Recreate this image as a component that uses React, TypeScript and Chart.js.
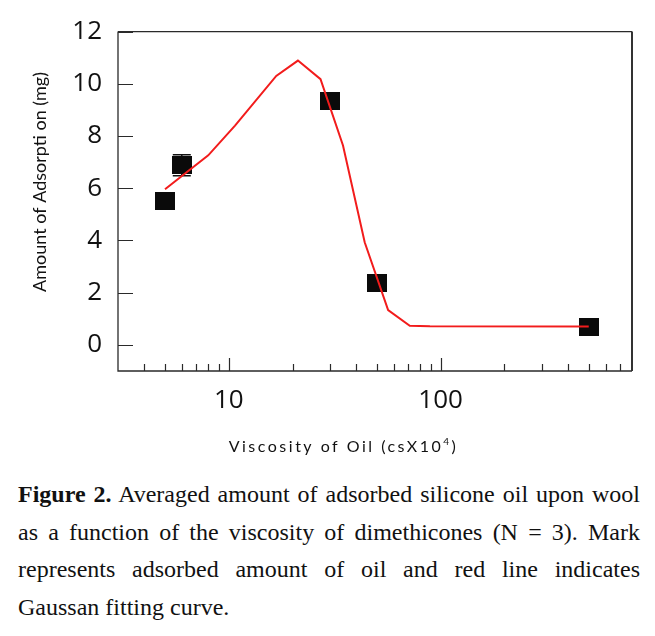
import React, { useEffect, useRef } from 'react';
import { Chart, registerables } from 'chart.js';

Chart.register(...registerables);

// Measured data (viscosity in cs x 10^4, adsorption in mg)
const viscosity = [5, 6, 30, 50, 500];
const adsorption = [5.5, 6.88, 9.36, 2.36, 0.7];
const adsorptionErr = [0, 0.4, 0, 0, 0];

// Gaussian fitting curve (red line) vertices
const fitX = [5, 8, 10.7, 16.75, 21.2, 27.1, 34.6, 43.8, 56.5, 71.5, 89, 500];
const fitY = [5.96, 7.26, 8.4, 10.3, 10.89, 10.18, 7.64, 3.93, 1.33, 0.73, 0.71, 0.7];

// Axis ticks
const xMajorTicks = [10, 100];
const xMinorTicks = [4, 5, 6, 7, 8, 9, 20, 30, 40, 50, 60, 70, 80, 90, 200, 300, 400, 500, 600, 700];
const yTicks = [0, 2, 4, 6, 8, 10, 12];

const yTitle = 'Amount of Adsorpti on (mg)';
const xTitleMain = 'Viscosity of Oil (csX10';
const xTitleSup = '4';
const xTitleEnd = ')';

const captionBold = 'Figure 2.';
const captionLines = [
  ' Averaged amount of adsorbed silicone oil upon wool',
  'as a function of the viscosity of dimethicones (N = 3). Mark',
  'represents adsorbed amount of oil and red line indicates',
  'Gaussan fitting curve.',
];

const framePlugin = {
  id: 'frame',
  beforeDatasetsDraw(chart: any) {
    const { ctx, chartArea: a, scales } = chart;
    const xs = scales.x;
    const ys = scales.y;
    ctx.save();
    ctx.strokeStyle = '#2a2a2a';
    ctx.lineWidth = 1.3;
    ctx.beginPath();
    ctx.moveTo(a.left, a.top);
    ctx.lineTo(a.right, a.top);
    ctx.moveTo(a.left, a.top);
    ctx.lineTo(a.left, a.bottom);
    ctx.lineTo(a.right, a.bottom);
    ctx.stroke();
    ctx.lineWidth = 2;
    ctx.strokeStyle = '#333';
    ctx.beginPath();
    ctx.moveTo(a.right, a.top);
    ctx.lineTo(a.right, a.bottom);
    ctx.stroke();

    ctx.lineWidth = 1.2;
    ctx.strokeStyle = '#2a2a2a';
    ctx.beginPath();
    yTicks.forEach((v) => {
      const py = Math.round(ys.getPixelForValue(v)) + 0.5;
      ctx.moveTo(a.left, py);
      ctx.lineTo(a.left + 15, py);
    });
    xMajorTicks.forEach((v) => {
      const px = Math.round(xs.getPixelForValue(v)) + 0.5;
      ctx.moveTo(px, a.bottom);
      ctx.lineTo(px, a.bottom - 13);
    });
    xMinorTicks.forEach((v) => {
      const px = Math.round(xs.getPixelForValue(v)) + 0.5;
      ctx.moveTo(px, a.bottom);
      ctx.lineTo(px, a.bottom - 7);
    });
    ctx.stroke();

    // error bars
    ctx.strokeStyle = '#111';
    ctx.lineWidth = 1.5;
    viscosity.forEach((vx, i) => {
      const e = adsorptionErr[i];
      if (!e) return;
      const px = xs.getPixelForValue(vx);
      const top = ys.getPixelForValue(adsorption[i] + e);
      const bot = ys.getPixelForValue(adsorption[i] - e);
      ctx.beginPath();
      ctx.moveTo(px, top);
      ctx.lineTo(px, bot);
      ctx.moveTo(px - 9, top);
      ctx.lineTo(px + 9, top);
      ctx.moveTo(px - 9, bot);
      ctx.lineTo(px + 9, bot);
      ctx.stroke();
    });
    ctx.restore();
  },
  afterDraw(chart: any) {
    const { ctx } = chart;
    ctx.save();
    ctx.fillStyle = '#111';
    // y title
    ctx.translate(40, 182);
    ctx.rotate(-Math.PI / 2);
    ctx.font = '18px Lato';
    ctx.textAlign = 'center';
    ctx.textBaseline = 'middle';
    ctx.fillText(yTitle, 0, 0);
    ctx.restore();

    // x title with superscript
    ctx.save();
    ctx.fillStyle = '#111';
    ctx.textBaseline = 'alphabetic';
    ctx.textAlign = 'left';
    (ctx as any).letterSpacing = '2.5px';
    ctx.font = '16px Lato';
    const w1 = ctx.measureText(xTitleMain).width;
    ctx.font = '10px Lato';
    const w2 = ctx.measureText(xTitleSup).width;
    ctx.font = '16px Lato';
    const w3 = ctx.measureText(xTitleEnd).width;
    const total = w1 + w2 + w3;
    let x0 = 343.5 - total / 2;
    const base = 452;
    ctx.fillText(xTitleMain, x0, base);
    x0 += w1;
    ctx.font = '10px Lato';
    ctx.fillText(xTitleSup, x0, base - 7);
    x0 += w2;
    ctx.font = '16px Lato';
    ctx.fillText(xTitleEnd, x0, base);
    ctx.restore();
  },
};

export default function App() {
  const canvasRef = useRef<HTMLCanvasElement | null>(null);

  useEffect(() => {
    const canvas = canvasRef.current;
    if (!canvas) return;
    const sq = document.createElement('canvas');
    sq.width = 20;
    sq.height = 18;
    const sctx = sq.getContext('2d')!;
    sctx.fillStyle = '#0a0a0a';
    sctx.fillRect(0, 0, 20, 18);

    const chart = new Chart(canvas, {
      type: 'scatter',
      data: {
        datasets: [
          {
            label: 'Gaussian fit',
            data: fitX.map((x, i) => ({ x, y: fitY[i] })),
            showLine: true,
            borderColor: '#f21c1c',
            borderWidth: 2,
            pointRadius: 0,
            tension: 0,
            order: 0,
          },
          {
            label: 'Adsorbed amount',
            data: viscosity.map((x, i) => ({ x, y: adsorption[i] })),
            pointStyle: sq as any,
            pointRadius: 10,
            backgroundColor: '#0a0a0a',
            borderColor: '#0a0a0a',
            order: 1,
          },
        ],
      },
      options: {
        responsive: false,
        animation: false,
        events: [],
        layout: { padding: { top: 28, right: 23, left: 0, bottom: 0 } },
        plugins: { legend: { display: false }, tooltip: { enabled: false } },
        scales: {
          x: {
            type: 'logarithmic',
            min: 3,
            max: 800,
            grid: { display: false, drawTicks: false },
            border: { display: false },
            afterBuildTicks: (s: any) => {
              s.ticks = xMajorTicks.map((v) => ({ value: v }));
            },
            afterFit: (s: any) => {
              s.height = 89;
            },
            ticks: {
              autoSkip: false,
              maxRotation: 0,
              padding: 14,
              color: '#111',
              font: { family: 'Open Sans', size: 26 },
              callback: (v: any) => String(v),
            },
          },
          y: {
            type: 'linear',
            min: -1,
            max: 12,
            grid: { display: false, drawTicks: false },
            border: { display: false },
            afterBuildTicks: (s: any) => {
              s.ticks = yTicks.map((v) => ({ value: v }));
            },
            afterFit: (s: any) => {
              s.width = 118;
            },
            ticks: {
              autoSkip: false,
              padding: 16,
              color: '#111',
              font: { family: 'Open Sans', size: 26 },
              callback: (v: any) => String(v),
            },
          },
        },
      },
      plugins: [framePlugin],
    });
    return () => chart.destroy();
  }, []);

  const lineStyle = (last: boolean): React.CSSProperties => ({
    textAlign: 'justify',
    textAlignLast: last ? 'left' : 'justify',
    whiteSpace: 'normal',
    height: 37.5,
    lineHeight: '37.5px',
  });

  return (
    <div style={{ position: 'absolute', left: 0, top: 0, width: 655, height: 636, background: '#fff', overflow: 'hidden' }}>
      <canvas ref={canvasRef} width={655} height={460} style={{ position: 'absolute', left: 0, top: 0, width: 655, height: 460 }} />
      <div
        style={{
          position: 'absolute',
          left: 18,
          top: 476,
          width: 622,
          fontFamily: '"Liberation Serif", "Times New Roman", serif',
          fontSize: 24,
          color: '#111',
        }}
      >
        {captionLines.map((line, i) => (
          <div key={i} style={lineStyle(i === captionLines.length - 1)}>
            {i === 0 ? <b>{captionBold}</b> : null}
            {line}
          </div>
        ))}
      </div>
    </div>
  );
}
